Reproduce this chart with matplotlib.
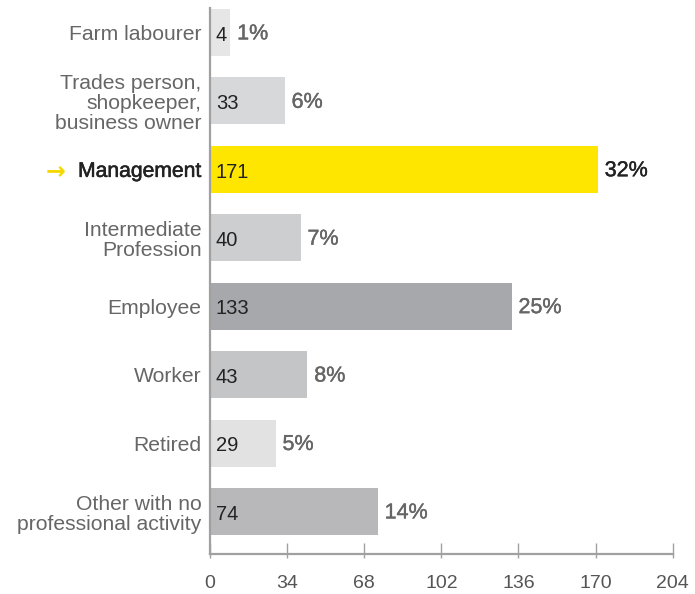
import matplotlib.pyplot as plt
import matplotlib.patheffects as pe
import numpy as np

plt.rcParams['font.family'] = ['Liberation Sans', 'DejaVu Sans']

# data
categories = ["Farm labourer", "Trades person,\nshopkeeper,\nbusiness owner", "Management",
              "Intermediate\nProfession", "Employee", "Worker", "Retired",
              "Other with no\nprofessional activity"]
counts = [4, 33, 171, 40, 133, 43, 29, 74]
shares = [1, 6, 32, 7, 25, 8, 5, 14]
xticks = [0, 34, 68, 102, 136, 170, 204]

colors = ["#e6e6e7", "#d7d8da", "#ffe600", "#cdced0", "#a7a8ab", "#c4c5c7", "#e2e2e3", "#b8b8ba"]
highlight = 2

fig = plt.figure(figsize=(6.95, 5.94), dpi=100)
ax = fig.add_axes([0.302, 0.0673, 0.666, 0.9192])

y = np.arange(len(categories))
widths = np.maximum(counts, 9)   # keep tiny bars visible
ax.barh(y, widths, height=0.686, color=colors, zorder=2)

for i, (c, s, w) in enumerate(zip(counts, shares, widths)):
    ax.text(2.6, i + 0.04, str(c), va="center", ha="left", fontsize=14.5, color="#222222")
    col = "#222222" if i == highlight else "#666666"
    ax.text(w + 3.0, i + 0.02, f"{s}%", va="center", ha="left", fontsize=15.5, color=col,
            path_effects=[pe.withStroke(linewidth=0.3, foreground=col)])

ax.set_xlim(0, 204)
ax.set_ylim(7.621, -0.358)
ax.set_xticks(xticks)
ax.set_xticks(xticks, minor=True)
ax.xaxis.remove_overlapping_locs = False
ax.set_xticklabels([str(t) for t in xticks], fontsize=14, color="#555555")
ax.tick_params(axis="x", which="major", direction="in", length=8, width=1, color="#a0a0a0", pad=15)
ax.tick_params(axis="x", which="minor", direction="out", length=3, width=1, color="#a0a0a0")

ax.set_yticks(y)
ax.set_yticklabels(categories, fontsize=15.2, color="#666666", linespacing=1.07)
ax.tick_params(axis="y", length=0, pad=6)
lab = ax.get_yticklabels()[highlight]
lab.set_color("#222222")
lab.set_path_effects([pe.withStroke(linewidth=0.4, foreground="#222222")])
ax.annotate("→", xy=(0, highlight), xycoords=("axes fraction", "data"),
            xytext=(-164, -2), textcoords="offset pixels", ha="left", va="center",
            fontsize=17, fontweight="bold", color="#f5d800", family="DejaVu Sans")

for side in ["top", "right"]:
    ax.spines[side].set_visible(False)
for side in ["left", "bottom"]:
    ax.spines[side].set_color("#a0a0a0")
    ax.spines[side].set_linewidth(1.6)

fig.savefig("out.png", dpi=100)
